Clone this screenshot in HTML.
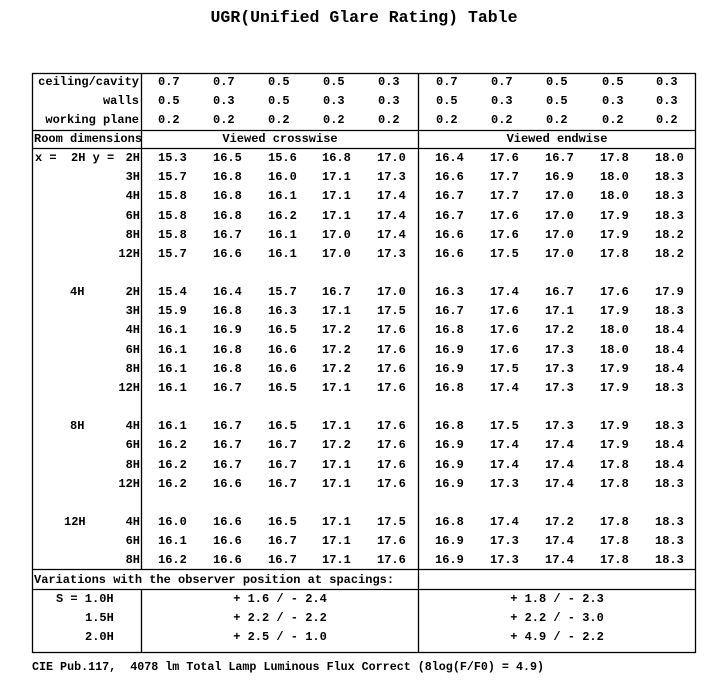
<!DOCTYPE html>
<html><head><meta charset="utf-8"><style>
html,body{margin:0;padding:0;background:#fff;}
svg{display:block;}
text{font-family:"Liberation Mono","Courier New",monospace;font-weight:bold;font-size:12px;fill:#000;}
.t{font-size:16.5px;}
.r{text-anchor:end;}
.m{text-anchor:middle;}
</style></head><body>
<svg width="719" height="688" xmlns="http://www.w3.org/2000/svg">
<text class="t m" x="364" y="22">UGR(Unified Glare Rating) Table</text>
<g stroke="#000" stroke-width="1.3" fill="none">
<rect x="32.5" y="73.5" width="663" height="579"/>
<line x1="141.5" y1="73" x2="141.5" y2="570"/>
<line x1="418.5" y1="73" x2="418.5" y2="652"/>
<line x1="141.5" y1="589" x2="141.5" y2="652"/>
<line x1="32" y1="130.5" x2="696" y2="130.5"/>
<line x1="32" y1="148.5" x2="696" y2="148.5"/>
<line x1="32" y1="569.5" x2="696" y2="569.5"/>
<line x1="32" y1="589.5" x2="696" y2="589.5"/>
</g>
<g>
<text class="r" x="139" y="85">ceiling/cavity</text>
<text class="r" x="139" y="104">walls</text>
<text class="r" x="139" y="123">working plane</text>
<text x="34" y="142">Room dimensions</text>
<text class="m" x="280" y="142">Viewed crosswise</text>
<text class="m" x="557" y="142">Viewed endwise</text>
</g>
<g id="hdr">
<text y="85"><tspan x="158">0.7</tspan><tspan x="213">0.7</tspan><tspan x="268">0.5</tspan><tspan x="323">0.5</tspan><tspan x="378">0.3</tspan><tspan x="436">0.7</tspan><tspan x="491">0.7</tspan><tspan x="546">0.5</tspan><tspan x="602">0.5</tspan><tspan x="656">0.3</tspan></text>
<text y="104"><tspan x="158">0.5</tspan><tspan x="213">0.3</tspan><tspan x="268">0.5</tspan><tspan x="323">0.3</tspan><tspan x="378">0.3</tspan><tspan x="436">0.5</tspan><tspan x="491">0.3</tspan><tspan x="546">0.5</tspan><tspan x="602">0.3</tspan><tspan x="656">0.3</tspan></text>
<text y="123"><tspan x="158">0.2</tspan><tspan x="213">0.2</tspan><tspan x="268">0.2</tspan><tspan x="323">0.2</tspan><tspan x="378">0.2</tspan><tspan x="436">0.2</tspan><tspan x="491">0.2</tspan><tspan x="546">0.2</tspan><tspan x="602">0.2</tspan><tspan x="656">0.2</tspan></text>
</g>
<g>
<text x="35" y="161" xml:space="preserve">x =  2H y =</text>
<text x="70" y="295">4H</text>
<text x="70" y="429">8H</text>
<text x="64" y="525">12H</text>
</g>
<g class="r">
<text class="r" x="140" y="161">2H</text>
<text class="r" x="140" y="180">3H</text>
<text class="r" x="140" y="199">4H</text>
<text class="r" x="140" y="219">6H</text>
<text class="r" x="140" y="238">8H</text>
<text class="r" x="140" y="257">12H</text>
<text class="r" x="140" y="295">2H</text>
<text class="r" x="140" y="314">3H</text>
<text class="r" x="140" y="333">4H</text>
<text class="r" x="140" y="353">6H</text>
<text class="r" x="140" y="372">8H</text>
<text class="r" x="140" y="391">12H</text>
<text class="r" x="140" y="429">4H</text>
<text class="r" x="140" y="448">6H</text>
<text class="r" x="140" y="468">8H</text>
<text class="r" x="140" y="487">12H</text>
<text class="r" x="140" y="525">4H</text>
<text class="r" x="140" y="544">6H</text>
<text class="r" x="140" y="563">8H</text>
</g>
<g>
<text y="161"><tspan x="158">15.3</tspan><tspan x="213">16.5</tspan><tspan x="268">15.6</tspan><tspan x="322">16.8</tspan><tspan x="377">17.0</tspan><tspan x="435">16.4</tspan><tspan x="490">17.6</tspan><tspan x="545">16.7</tspan><tspan x="600">17.8</tspan><tspan x="655">18.0</tspan></text>
<text y="180"><tspan x="158">15.7</tspan><tspan x="213">16.8</tspan><tspan x="268">16.0</tspan><tspan x="322">17.1</tspan><tspan x="377">17.3</tspan><tspan x="435">16.6</tspan><tspan x="490">17.7</tspan><tspan x="545">16.9</tspan><tspan x="600">18.0</tspan><tspan x="655">18.3</tspan></text>
<text y="199"><tspan x="158">15.8</tspan><tspan x="213">16.8</tspan><tspan x="268">16.1</tspan><tspan x="322">17.1</tspan><tspan x="377">17.4</tspan><tspan x="435">16.7</tspan><tspan x="490">17.7</tspan><tspan x="545">17.0</tspan><tspan x="600">18.0</tspan><tspan x="655">18.3</tspan></text>
<text y="219"><tspan x="158">15.8</tspan><tspan x="213">16.8</tspan><tspan x="268">16.2</tspan><tspan x="322">17.1</tspan><tspan x="377">17.4</tspan><tspan x="435">16.7</tspan><tspan x="490">17.6</tspan><tspan x="545">17.0</tspan><tspan x="600">17.9</tspan><tspan x="655">18.3</tspan></text>
<text y="238"><tspan x="158">15.8</tspan><tspan x="213">16.7</tspan><tspan x="268">16.1</tspan><tspan x="322">17.0</tspan><tspan x="377">17.4</tspan><tspan x="435">16.6</tspan><tspan x="490">17.6</tspan><tspan x="545">17.0</tspan><tspan x="600">17.9</tspan><tspan x="655">18.2</tspan></text>
<text y="257"><tspan x="158">15.7</tspan><tspan x="213">16.6</tspan><tspan x="268">16.1</tspan><tspan x="322">17.0</tspan><tspan x="377">17.3</tspan><tspan x="435">16.6</tspan><tspan x="490">17.5</tspan><tspan x="545">17.0</tspan><tspan x="600">17.8</tspan><tspan x="655">18.2</tspan></text>

<text y="295"><tspan x="158">15.4</tspan><tspan x="213">16.4</tspan><tspan x="268">15.7</tspan><tspan x="322">16.7</tspan><tspan x="377">17.0</tspan><tspan x="435">16.3</tspan><tspan x="490">17.4</tspan><tspan x="545">16.7</tspan><tspan x="600">17.6</tspan><tspan x="655">17.9</tspan></text>
<text y="314"><tspan x="158">15.9</tspan><tspan x="213">16.8</tspan><tspan x="268">16.3</tspan><tspan x="322">17.1</tspan><tspan x="377">17.5</tspan><tspan x="435">16.7</tspan><tspan x="490">17.6</tspan><tspan x="545">17.1</tspan><tspan x="600">17.9</tspan><tspan x="655">18.3</tspan></text>
<text y="333"><tspan x="158">16.1</tspan><tspan x="213">16.9</tspan><tspan x="268">16.5</tspan><tspan x="322">17.2</tspan><tspan x="377">17.6</tspan><tspan x="435">16.8</tspan><tspan x="490">17.6</tspan><tspan x="545">17.2</tspan><tspan x="600">18.0</tspan><tspan x="655">18.4</tspan></text>
<text y="353"><tspan x="158">16.1</tspan><tspan x="213">16.8</tspan><tspan x="268">16.6</tspan><tspan x="322">17.2</tspan><tspan x="377">17.6</tspan><tspan x="435">16.9</tspan><tspan x="490">17.6</tspan><tspan x="545">17.3</tspan><tspan x="600">18.0</tspan><tspan x="655">18.4</tspan></text>
<text y="372"><tspan x="158">16.1</tspan><tspan x="213">16.8</tspan><tspan x="268">16.6</tspan><tspan x="322">17.2</tspan><tspan x="377">17.6</tspan><tspan x="435">16.9</tspan><tspan x="490">17.5</tspan><tspan x="545">17.3</tspan><tspan x="600">17.9</tspan><tspan x="655">18.4</tspan></text>
<text y="391"><tspan x="158">16.1</tspan><tspan x="213">16.7</tspan><tspan x="268">16.5</tspan><tspan x="322">17.1</tspan><tspan x="377">17.6</tspan><tspan x="435">16.8</tspan><tspan x="490">17.4</tspan><tspan x="545">17.3</tspan><tspan x="600">17.9</tspan><tspan x="655">18.3</tspan></text>

<text y="429"><tspan x="158">16.1</tspan><tspan x="213">16.7</tspan><tspan x="268">16.5</tspan><tspan x="322">17.1</tspan><tspan x="377">17.6</tspan><tspan x="435">16.8</tspan><tspan x="490">17.5</tspan><tspan x="545">17.3</tspan><tspan x="600">17.9</tspan><tspan x="655">18.3</tspan></text>
<text y="448"><tspan x="158">16.2</tspan><tspan x="213">16.7</tspan><tspan x="268">16.7</tspan><tspan x="322">17.2</tspan><tspan x="377">17.6</tspan><tspan x="435">16.9</tspan><tspan x="490">17.4</tspan><tspan x="545">17.4</tspan><tspan x="600">17.9</tspan><tspan x="655">18.4</tspan></text>
<text y="468"><tspan x="158">16.2</tspan><tspan x="213">16.7</tspan><tspan x="268">16.7</tspan><tspan x="322">17.1</tspan><tspan x="377">17.6</tspan><tspan x="435">16.9</tspan><tspan x="490">17.4</tspan><tspan x="545">17.4</tspan><tspan x="600">17.8</tspan><tspan x="655">18.4</tspan></text>
<text y="487"><tspan x="158">16.2</tspan><tspan x="213">16.6</tspan><tspan x="268">16.7</tspan><tspan x="322">17.1</tspan><tspan x="377">17.6</tspan><tspan x="435">16.9</tspan><tspan x="490">17.3</tspan><tspan x="545">17.4</tspan><tspan x="600">17.8</tspan><tspan x="655">18.3</tspan></text>

<text y="525"><tspan x="158">16.0</tspan><tspan x="213">16.6</tspan><tspan x="268">16.5</tspan><tspan x="322">17.1</tspan><tspan x="377">17.5</tspan><tspan x="435">16.8</tspan><tspan x="490">17.4</tspan><tspan x="545">17.2</tspan><tspan x="600">17.8</tspan><tspan x="655">18.3</tspan></text>
<text y="544"><tspan x="158">16.1</tspan><tspan x="213">16.6</tspan><tspan x="268">16.7</tspan><tspan x="322">17.1</tspan><tspan x="377">17.6</tspan><tspan x="435">16.9</tspan><tspan x="490">17.3</tspan><tspan x="545">17.4</tspan><tspan x="600">17.8</tspan><tspan x="655">18.3</tspan></text>
<text y="563"><tspan x="158">16.2</tspan><tspan x="213">16.6</tspan><tspan x="268">16.7</tspan><tspan x="322">17.1</tspan><tspan x="377">17.6</tspan><tspan x="435">16.9</tspan><tspan x="490">17.3</tspan><tspan x="545">17.4</tspan><tspan x="600">17.8</tspan><tspan x="655">18.3</tspan></text>
</g>
<g>
<text x="34" y="583">Variations with the observer position at spacings:</text>
<text x="56" y="602">S = 1.0H</text>
<text x="85" y="621">1.5H</text>
<text x="85" y="640">2.0H</text>
<text class="m" x="280" y="602">+ 1.6 / - 2.4</text>
<text class="m" x="280" y="621">+ 2.2 / - 2.2</text>
<text class="m" x="280" y="640">+ 2.5 / - 1.0</text>
<text class="m" x="557" y="602">+ 1.8 / - 2.3</text>
<text class="m" x="557" y="621">+ 2.2 / - 3.0</text>
<text class="m" x="557" y="640">+ 4.9 / - 2.2</text>
<text x="32" y="670" style="font-size:11.7px" xml:space="preserve">CIE Pub.117,  4078 lm Total Lamp Luminous Flux Correct (8log(F/F0) = 4.9)</text>
</g>
</svg>
</body></html>
